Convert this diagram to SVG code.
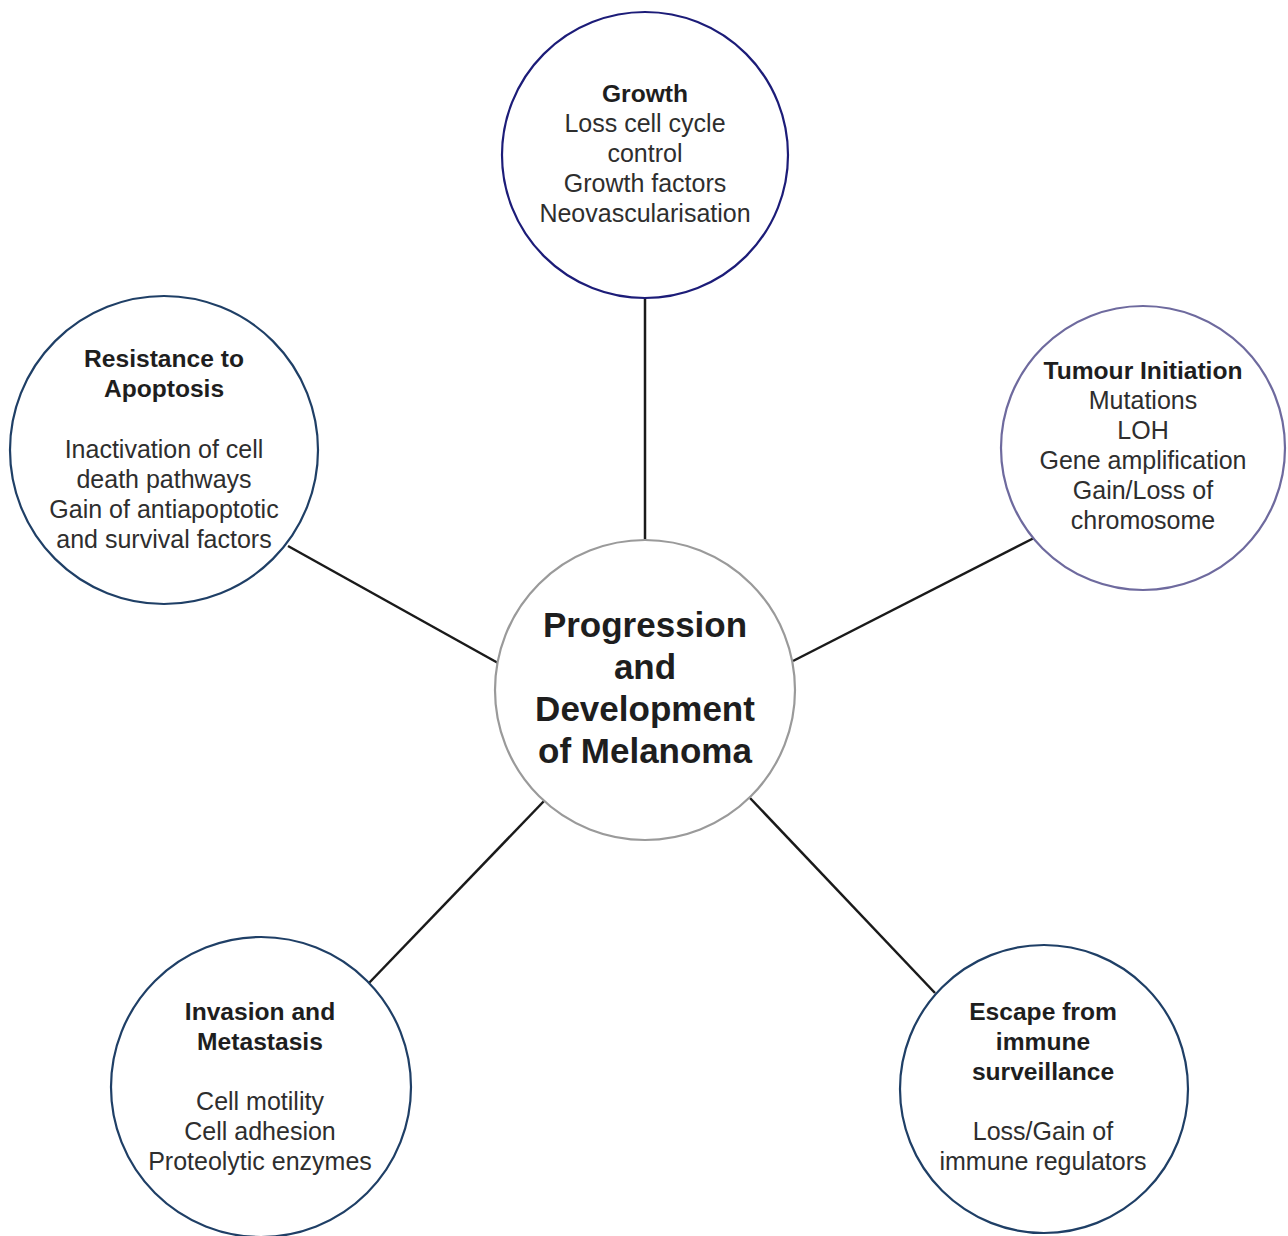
<svg xmlns="http://www.w3.org/2000/svg" width="1288" height="1236" viewBox="0 0 1288 1236">
<style>
.node{fill:#ffffff;stroke-width:2.2}
.t{font-family:"Liberation Sans",Arial,sans-serif;font-size:25px;fill:#2e2e2e;text-anchor:middle}
.b{font-weight:bold;fill:#1e1e1e;font-size:24.6px}
.c{font-family:"Liberation Sans",Arial,sans-serif;font-size:35px;font-weight:bold;fill:#1e1e1e;text-anchor:middle}
.edge{stroke:#1a1a1a;stroke-width:2.5;fill:none}
</style>
<rect width="1288" height="1236" fill="#ffffff"/>
<g id="connectors">
<line class="edge" x1="645" y1="298" x2="645" y2="540"/>
<line class="edge" x1="1034" y1="538" x2="793" y2="661"/>
<line class="edge" x1="288" y1="546" x2="498" y2="663"/>
<line class="edge" x1="369" y1="983" x2="545" y2="800"/>
<line class="edge" x1="935" y1="993" x2="750" y2="798"/>
</g>
<g id="center">
<circle class="node" cx="645" cy="690" r="150" stroke="#9a9a9a"/>
<text class="c" x="645" y="637">Progression</text>
<text class="c" x="645" y="679">and</text>
<text class="c" x="645" y="721">Development</text>
<text class="c" x="645" y="763">of Melanoma</text>
</g>
<g id="growth">
<circle class="node" cx="645" cy="155" r="143" stroke="#1c1c78" stroke-width="2.6"/>
<text class="t b" x="645" y="102">Growth</text>
<text class="t" x="645" y="132">Loss cell cycle</text>
<text class="t" x="645" y="162">control</text>
<text class="t" x="645" y="192">Growth factors</text>
<text class="t" x="645" y="222">Neovascularisation</text>
</g>
<g id="tumour">
<circle class="node" cx="1143" cy="448" r="142" stroke="#6e6a9e"/>
<text class="t b" x="1143" y="379">Tumour Initiation</text>
<text class="t" x="1143" y="409">Mutations</text>
<text class="t" x="1143" y="439">LOH</text>
<text class="t" x="1143" y="469">Gene amplification</text>
<text class="t" x="1143" y="499">Gain/Loss of</text>
<text class="t" x="1143" y="529">chromosome</text>
</g>
<g id="apoptosis">
<circle class="node" cx="164" cy="450" r="154" stroke="#1f3f66"/>
<text class="t b" x="164" y="367">Resistance to</text>
<text class="t b" x="164" y="397">Apoptosis</text>
<text class="t" x="164" y="458">Inactivation of cell</text>
<text class="t" x="164" y="488">death pathways</text>
<text class="t" x="164" y="518">Gain of antiapoptotic</text>
<text class="t" x="164" y="548">and survival factors</text>
</g>
<g id="invasion">
<circle class="node" cx="261" cy="1087" r="150" stroke="#1f3f66"/>
<text class="t b" x="260" y="1020">Invasion and</text>
<text class="t b" x="260" y="1050">Metastasis</text>
<text class="t" x="260" y="1110">Cell motility</text>
<text class="t" x="260" y="1140">Cell adhesion</text>
<text class="t" x="260" y="1170">Proteolytic enzymes</text>
</g>
<g id="escape">
<circle class="node" cx="1044" cy="1089" r="144" stroke="#1f3f66"/>
<text class="t b" x="1043" y="1020">Escape from</text>
<text class="t b" x="1043" y="1050">immune</text>
<text class="t b" x="1043" y="1080">surveillance</text>
<text class="t" x="1043" y="1140">Loss/Gain of</text>
<text class="t" x="1043" y="1170">immune regulators</text>
</g>
</svg>
